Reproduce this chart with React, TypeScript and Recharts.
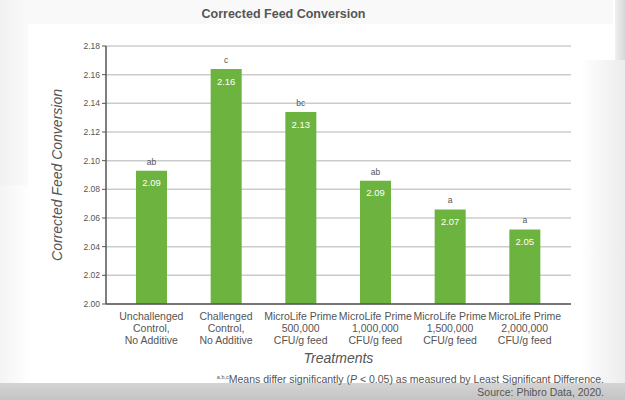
import React from "react";
import { BarChart, Bar, XAxis, YAxis, CartesianGrid, LabelList, Label } from "recharts";

const categories = [
  ["Unchallenged", "Control,", "No Additive"],
  ["Challenged", "Control,", "No Additive"],
  ["MicroLife Prime", "500,000", "CFU/g feed"],
  ["MicroLife Prime", "1,000,000", "CFU/g feed"],
  ["MicroLife Prime", "1,500,000", "CFU/g feed"],
  ["MicroLife Prime", "2,000,000", "CFU/g feed"],
];
const values = [2.093, 2.164, 2.134, 2.086, 2.066, 2.052];
const letters = ["ab", "c", "bc", "ab", "a", "a"];
const yTicks = [2.0, 2.02, 2.04, 2.06, 2.08, 2.1, 2.12, 2.14, 2.16, 2.18];

const data = categories.map((c, i) => ({
  name: c.join("|"),
  value: values[i],
  letter: letters[i],
}));

const FONT = "'Liberation Sans', Arial, Helvetica, sans-serif";
const GRAY = "#555";
const GREEN = "#6db33f";

const XTick = (props: any) => {
  const { x, y, payload } = props;
  const lines = String(payload.value).split("|");
  return (
    <g transform={`translate(${x},${y})`}>
      {lines.map((l: string, i: number) => (
        <text key={i} x={0} y={8 + i * 12} textAnchor="middle" fontSize={10.5} fill={GRAY} fontFamily={FONT}>
          {l}
        </text>
      ))}
    </g>
  );
};

export default function App() {
  return (
    <div style={{ position: "absolute", left: 0, top: 0, width: 625, height: 400, background: "#fff", overflow: "hidden", fontFamily: FONT }}>
      <div style={{ position: "absolute", left: 0, top: 0, width: 28, height: 185, background: "linear-gradient(to right, #f1f1f1, #fafafa)" }} />
      <div style={{ position: "absolute", left: 0, top: 185, width: 30, height: 200, background: "linear-gradient(to right, #f4f4f4, #ffffff)" }} />
      <div style={{ position: "absolute", left: 28, top: 0, width: 585, height: 24, background: "#f9f9f9" }} />
      <div style={{ position: "absolute", right: 0, top: 0, width: 10, height: 60, background: "linear-gradient(to right, #f0f0f0, #d8d8d8)" }} />
      <div style={{ position: "absolute", right: 0, top: 60, width: 45, height: 325, background: "linear-gradient(to right, #ffffff, #ececec)" }} />
      <div style={{ position: "absolute", left: 0, top: 383, width: 625, height: 17, background: "linear-gradient(to bottom, #d4d4d4, #c4c4c4)" }} />
      <div style={{ position: "absolute", left: 0, top: 7, width: 567, textAlign: "center", fontSize: 12.5, fontWeight: "bold", color: GRAY }}>
        Corrected Feed Conversion
      </div>
      <div style={{ position: "absolute", left: 0, top: 0 }}>
        <BarChart
          width={625}
          height={400}
          data={data}
          margin={{ top: 46, right: 54, bottom: 0, left: 30 }}
        >
          <CartesianGrid vertical={false} stroke="#cccccc" strokeWidth={1.5} />
          <XAxis
            dataKey="name"
            tick={<XTick />}
            tickLine={false}
            axisLine={{ stroke: "#555", strokeWidth: 1.5 }}
            interval={0}
            height={96}
            padding={{ left: 8, right: 9 }}
          >
            <Label value="Treatments" position="insideBottom" offset={37} fontSize={14} fontStyle="italic" fill={GRAY} fontFamily={FONT} />
          </XAxis>
          <YAxis
            domain={[2.0, 2.18]}
            ticks={yTicks}
            tickFormatter={(v: number) => v.toFixed(2)}
            width={76}
            tick={{ fontSize: 8.5, fill: GRAY, fontFamily: FONT }}
            tickSize={4}
            tickLine={{ stroke: "#555" }}
            axisLine={{ stroke: "#555", strokeWidth: 1.5 }}
            allowDataOverflow
          >
            <Label value="Corrected Feed Conversion" angle={-90} position="insideLeft" offset={27} style={{ textAnchor: "middle" }} fontSize={14} fontStyle="italic" fill={GRAY} fontFamily={FONT} />
          </YAxis>
          <Bar dataKey="value" fill={GREEN} barSize={31} isAnimationActive={false}>
            <LabelList dataKey="value" position="insideTop" offset={9} formatter={(v: any) => Number(v).toFixed(2)} fontSize={9.5} fill="#fff" fontFamily={FONT} />
            <LabelList dataKey="letter" position="top" offset={6} fontSize={8.5} fill={GRAY} fontFamily={FONT} />
          </Bar>
        </BarChart>
      </div>
      <div style={{ position: "absolute", right: 21, top: 373, fontSize: 10.5, color: GRAY, whiteSpace: "nowrap" }}>
        <sup style={{ fontSize: 5.5 }}>a,b,c</sup>Means differ significantly (<i>P</i> &lt; 0.05) as measured by Least Significant Difference.
      </div>
      <div style={{ position: "absolute", right: 21, top: 386, fontSize: 10.5, color: GRAY, whiteSpace: "nowrap" }}>
        Source: Phibro Data, 2020.
      </div>
    </div>
  );
}
